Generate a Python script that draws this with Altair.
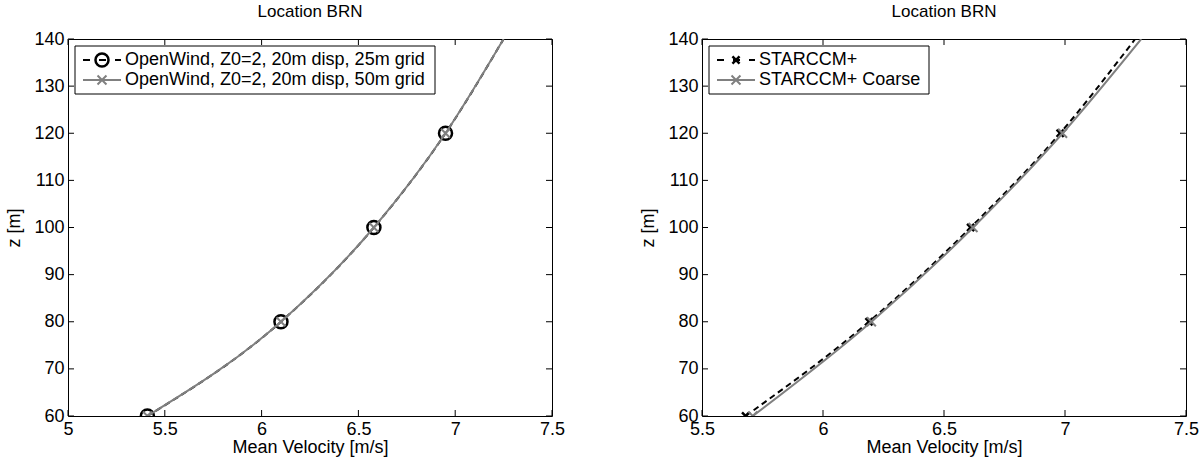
import altair as alt
import pandas as pd

TITLE = "Location BRN"
X_TITLE = "Mean Velocity [m/s]"
Y_TITLE = "z [m]"

# heights of the profiles (m); markers are drawn at the measured heights only
z_levels = [60, 80, 100, 120, 140]
marker_levels = [60, 80, 100, 120]

# left panel: OpenWind
ow25_v = [5.41, 6.10, 6.58, 6.95, 7.25]
ow50_v = [5.41, 6.10, 6.58, 6.95, 7.25]
# right panel: STARCCM+
star_v = [5.68, 6.19, 6.61, 6.98, 7.29]
coarse_v = [5.71, 6.20, 6.62, 6.99, 7.315]

left_xticks = [5, 5.5, 6, 6.5, 7, 7.5]
right_xticks = [5.5, 6, 6.5, 7, 7.5]
yticks = [60, 70, 80, 90, 100, 110, 120, 130, 140]

left_labels = ["OpenWind, Z0=2, 20m disp, 25m grid", "OpenWind, Z0=2, 20m disp, 50m grid"]
right_labels = ["STARCCM+", "STARCCM+ Coarse"]

W, H = 484, 377
FONT = "Liberation Sans"
FS = 18
BLACK = "#000000"
GRAY = "#808080"
X_PATH = "M-1,-1L1,1M-1,1L1,-1"


def one(label=""):
    return pd.DataFrame({"label": [label]})


def panel(xdomain, xticks, series, labels, legend_w):
    xs = alt.Scale(domain=xdomain, nice=False, zero=False)
    ys = alt.Scale(domain=[60, 140], nice=False, zero=False)
    xax = alt.Axis(values=xticks, format="~g", title=X_TITLE, ticks=False, domain=False,
                   grid=False, labelPadding=4, titlePadding=0, labelFlush=False)
    yax = alt.Axis(values=yticks, title=Y_TITLE, ticks=False, domain=False, grid=False,
                   labelPadding=4, titlePadding=10, labelFlush=False)

    def X():
        return alt.X("v:Q", scale=xs, axis=xax)

    def Y():
        return alt.Y("z:Q", scale=ys, axis=yax)

    xt = pd.DataFrame({"v": xticks})
    yt = pd.DataFrame({"z": yticks})
    layers = [
        alt.Chart(xt).mark_rule(color=BLACK, strokeWidth=1).encode(
            x=X(), y=alt.value(H - 6), y2=alt.value(H)),
        alt.Chart(xt).mark_rule(color=BLACK, strokeWidth=1).encode(
            x=X(), y=alt.value(0), y2=alt.value(6)),
        alt.Chart(yt).mark_rule(color=BLACK, strokeWidth=1).encode(
            y=Y(), x=alt.value(0), x2=alt.value(6)),
        alt.Chart(yt).mark_rule(color=BLACK, strokeWidth=1).encode(
            y=Y(), x=alt.value(W - 6), x2=alt.value(W)),
    ]
    for s in series:
        df = pd.DataFrame({"v": s["v"], "z": z_levels})
        lk = dict(color=s["color"], strokeWidth=2, interpolate="monotone", clip=True)
        if s.get("dash"):
            lk["strokeDash"] = s["dash"]
        layers.append(alt.Chart(df).mark_line(**lk).encode(x=X(), y=Y(), order="z:Q"))
        layers.append(alt.Chart(df).transform_filter(
            alt.FieldOneOfPredicate(field="z", oneOf=marker_levels)
        ).mark_point(shape=s["shape"], size=s["size"], filled=False, color=s["color"],
                     strokeWidth=s["msw"], opacity=1, clip=True).encode(x=X(), y=Y()))

    # legend
    box_l, box_top = 7, 7
    rows = [21, 41]
    box_bot = 55
    layers.append(alt.Chart(one()).mark_rect(fill="white", stroke=BLACK, strokeWidth=1).encode(
        x=alt.value(box_l), x2=alt.value(box_l + legend_w), y=alt.value(box_top), y2=alt.value(box_bot)))
    for s, lab, ry in zip(series, labels, rows):
        rk = dict(color=s["color"], strokeWidth=2)
        if s.get("dash"):
            rk["strokeDash"] = [7, 9]
        layers.append(alt.Chart(one()).mark_rule(**rk).encode(
            x=alt.value(box_l + 8), x2=alt.value(box_l + 46), y=alt.value(ry)))
        layers.append(alt.Chart(one()).mark_point(shape=s["shape"], size=s["size"], filled=False,
                                                  color=s["color"], strokeWidth=s["msw"], opacity=1).encode(
            x=alt.value(box_l + 27), y=alt.value(ry)))
        layers.append(alt.Chart(one(lab)).mark_text(align="left", baseline="middle", font=FONT,
                                                    fontSize=FS, color=BLACK).encode(
            x=alt.value(box_l + 50), y=alt.value(ry), text="label:N"))

    return alt.layer(*layers).properties(
        width=W, height=H,
        title=alt.TitleParams(TITLE, frame="group", anchor="middle"))


left = panel([5, 7.5], left_xticks, [
    dict(v=ow25_v, color=BLACK, dash=[6, 4], shape="circle", size=170, msw=2.5),
    dict(v=ow50_v, color=GRAY, shape=X_PATH, size=80, msw=2),
], left_labels, 360)

right = panel([5.5, 7.5], right_xticks, [
    dict(v=star_v, color=BLACK, dash=[6, 4], shape=X_PATH, size=50, msw=2.5),
    dict(v=coarse_v, color=GRAY, shape=X_PATH, size=80, msw=2),
], right_labels, 220)

chart = alt.hconcat(left, right, spacing=73).properties(
    padding={"left": 5, "top": 2, "right": 0, "bottom": 0}
).configure_view(stroke=BLACK, strokeWidth=1).configure_axis(
    labelFont=FONT, labelFontSize=FS, titleFont=FONT, titleFontSize=FS,
    labelColor=BLACK, titleColor=BLACK, titleFontWeight="normal"
).configure_title(font=FONT, fontSize=17, fontWeight="normal", color=BLACK, offset=9)

chart.save("out.html", embed_options={"renderer": "svg", "actions": False})
